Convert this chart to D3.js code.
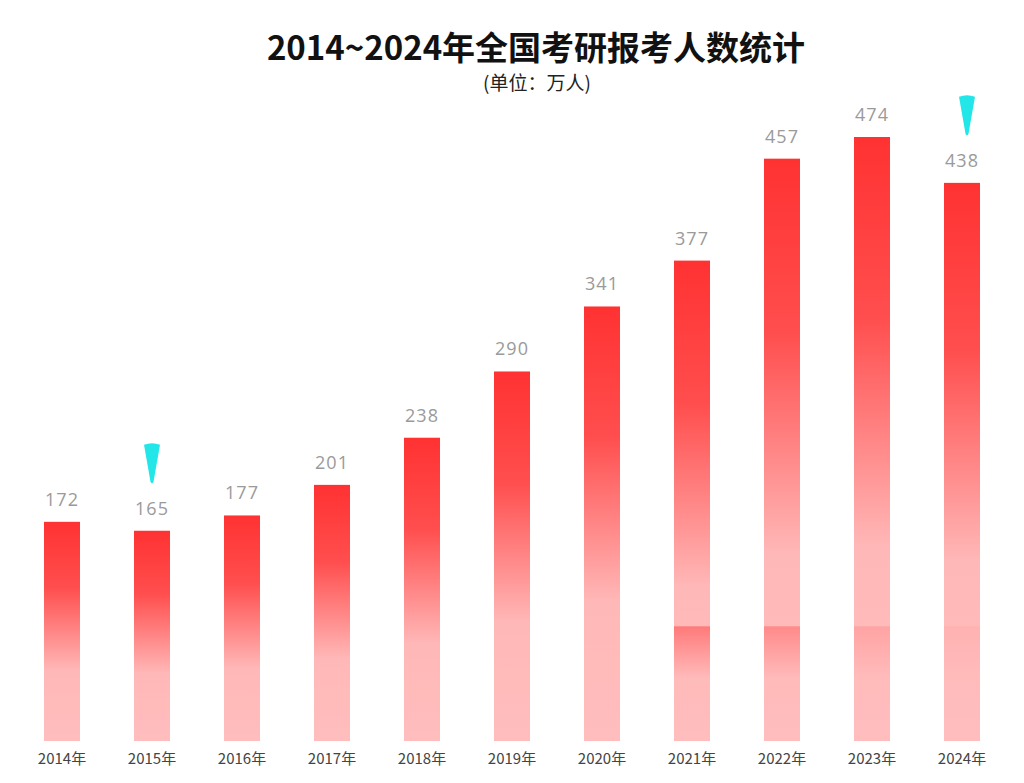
<!DOCTYPE html>
<html><head><meta charset="utf-8">
<script src="https://cdn.jsdelivr.net/npm/d3@7"></script>
<style>
html,body{margin:0;padding:0;background:#fff;}
svg{display:block;font-family:"Noto Sans CJK SC","Noto Sans",sans-serif;}
</style></head>
<body>
<svg id="chart" width="1024" height="783"></svg>
<script>
const categories = ["2014年","2015年","2016年","2017年","2018年","2019年","2020年","2021年","2022年","2023年","2024年"];
const values = [172,165,177,201,238,290,341,377,457,474,438];
const markedDrops = ["2015年","2024年"];
const title = "2014~2024年全国考研报考人数统计";
const subtitle = "(单位：万人)";

const W = 1024, H = 783;
const svg = d3.select("#chart");
const x = d3.scaleBand().domain(categories).range([17, 1007]).paddingInner(0.6).paddingOuter(0.3);
const y = d3.scaleLinear().domain([0, 474]).range([741, 137]);

const defs = svg.append("defs");
const g = defs.append("linearGradient").attr("id","barGrad").attr("x1",0).attr("y1",0).attr("x2",0).attr("y2",1);
g.append("stop").attr("offset","0%").attr("stop-color","#ff3232");
g.append("stop").attr("offset","30%").attr("stop-color","#ff4e4e");
g.append("stop").attr("offset","68%").attr("stop-color","#ffb8b8");
g.append("stop").attr("offset","100%").attr("stop-color","#ffbdbd");
const g2 = defs.append("linearGradient").attr("id","ghostGrad").attr("x1",0).attr("y1",0).attr("x2",0).attr("y2",1);
g2.append("stop").attr("offset","0%").attr("stop-color","#ff7a7a");
g2.append("stop").attr("offset","45%").attr("stop-color","#ffbaba");
g2.append("stop").attr("offset","100%").attr("stop-color","#ffbdbd");

svg.append("text").attr("x",536).attr("y",60).attr("text-anchor","middle")
  .attr("font-size",33).attr("font-weight","bold").attr("fill","#111").text(title);
svg.append("text").attr("x",537).attr("y",90).attr("text-anchor","middle")
  .attr("font-size",19).attr("fill","#222").text(subtitle);

const data = categories.map((c,i)=>({c, v: values[i], i}));

svg.append("g").selectAll("rect").data(data).join("rect")
  .attr("x", d=>x(d.c)).attr("width", x.bandwidth())
  .attr("y", d=>y(d.v)).attr("height", d=>y(0)-y(d.v))
  .attr("fill","url(#barGrad)");

// faint overlay band seen on the last four bars
const ghost = data.slice(7);
const ghostOp = [1, 0.75, 0.35, 0.12];
svg.append("g").selectAll("rect").data(ghost).join("rect")
  .attr("x", d=>x(d.c)).attr("width", x.bandwidth())
  .attr("y", y(90)).attr("height", y(0)-y(90))
  .attr("fill","url(#ghostGrad)").attr("opacity",(d,i)=>ghostOp[i]);

svg.append("g").selectAll("text").data(data).join("text")
  .attr("x", d=>x(d.c)+x.bandwidth()/2).attr("y", d=>y(d.v)-16)
  .attr("text-anchor","middle").attr("font-size",18).attr("fill","#9a9a9a")
  .attr("font-family","'Open Sans','DejaVu Sans',sans-serif").attr("letter-spacing",1)
  .text(d=>d.v);

const xAxis = svg.append("g").attr("transform",`translate(0,${y(0)})`)
  .call(d3.axisBottom(x).tickSize(0).tickPadding(12));
xAxis.select(".domain").remove();
xAxis.selectAll("text").attr("font-size",15).attr("fill","#444")
  .attr("font-family","'Noto Sans CJK SC',sans-serif");

// cyan drop markers
const markers = data.filter(d=>markedDrops.includes(d.c));
svg.append("g").selectAll("path").data(markers).join("path")
  .attr("transform", d=>`translate(${x(d.c)+x.bandwidth()/2 + (d.i===10?5:0)},${y(d.v)-86})`)
  .attr("d","M-8,0 Q0,-3 8,0 L1.5,37 Q0,40 -1.5,37 Z")
  .attr("fill","#22e6e8");
</script>
</body></html>
